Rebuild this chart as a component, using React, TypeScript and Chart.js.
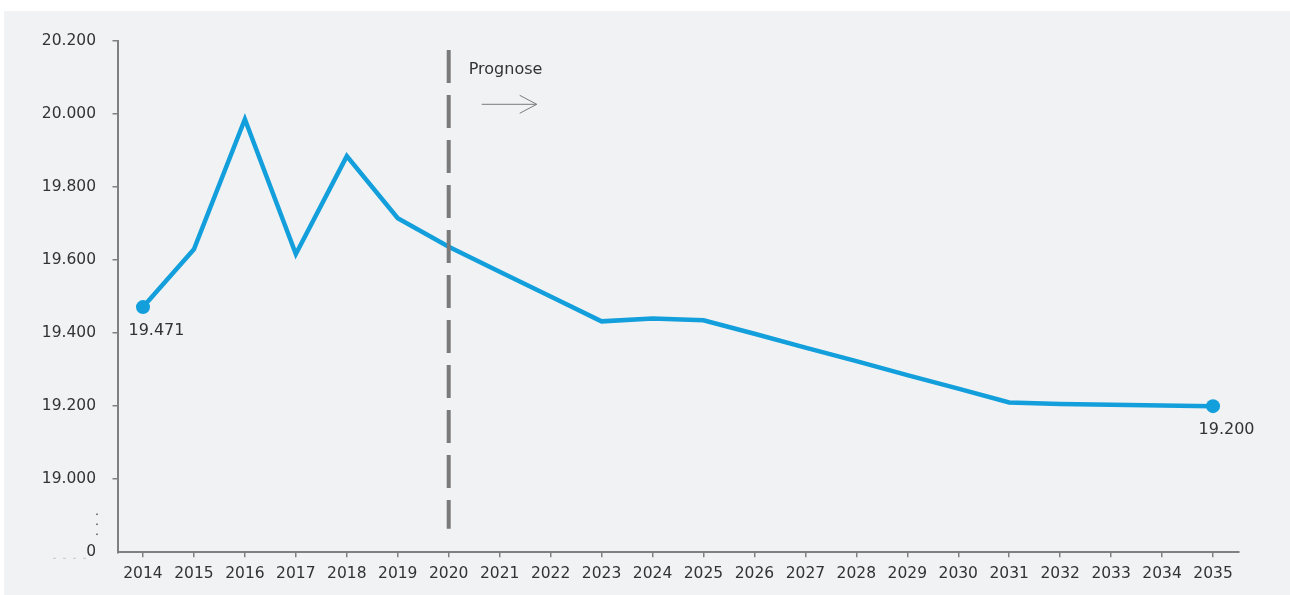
import { useEffect, useRef } from 'react';
import { Chart, registerables } from 'chart.js';

Chart.register(...registerables);

const years = ['2014', '2015', '2016', '2017', '2018', '2019', '2020', '2021', '2022', '2023', '2024', '2025', '2026', '2027', '2028', '2029', '2030', '2031', '2032', '2033', '2034', '2035'];
const population = [19471, 19629, 19985, 19616, 19884, 19714, 19636, 19568, 19500, 19432, 19440, 19435, 19398, 19360, 19323, 19285, 19248, 19210, 19206, 19204, 19202, 19200];
const yTickValues = [18800, 19000, 19200, 19400, 19600, 19800, 20000, 20200];
const yBreakValue = 18800; // shown as "0" (broken axis)
const prognoseYear = '2020';
const prognoseLabel = 'Prognose';

const FONT = '"DejaVu Sans", Verdana, sans-serif';
const TEXT = '#333333';
const AXIS = '#808080';
const LINE = '#139fdb';

const fmt = (v: number) => (v / 1000).toFixed(3);

const overlay = {
  id: 'overlay',
  afterDatasetsDraw(chart: any) {
    const { ctx, chartArea, scales } = chart;
    const x = scales.x;
    const y = scales.y;
    ctx.save();
    // forecast divider
    const px = x.getPixelForValue(years.indexOf(prognoseYear));
    ctx.strokeStyle = '#7a7a7a';
    ctx.lineWidth = 4;
    ctx.setLineDash([33, 12]);
    ctx.beginPath();
    ctx.moveTo(px, chartArea.top + 9.3);
    ctx.lineTo(px, chartArea.bottom - 23.6);
    ctx.stroke();
    ctx.setLineDash([]);
    // label
    ctx.fillStyle = TEXT;
    ctx.font = `16px ${FONT}`;
    ctx.textAlign = 'left';
    ctx.textBaseline = 'middle';
    ctx.fillText(prognoseLabel, px + 20, chartArea.top + 29.5);
    // arrow
    const ay = chartArea.top + 63.6;
    ctx.strokeStyle = '#7a7a7a';
    ctx.lineWidth = 1;
    ctx.beginPath();
    ctx.moveTo(px + 33, ay);
    ctx.lineTo(px + 88, ay);
    ctx.moveTo(px + 71, ay - 9);
    ctx.lineTo(px + 88, ay);
    ctx.lineTo(px + 71, ay + 9);
    ctx.stroke();
    // data labels at first and last points
    const meta = chart.getDatasetMeta(0);
    [0, population.length - 1].forEach((i) => {
      const pt = meta.data[i];
      ctx.fillStyle = TEXT;
      ctx.font = `16px ${FONT}`;
      ctx.textAlign = 'center';
      ctx.textBaseline = 'middle';
      ctx.fillText(fmt(population[i]), pt.x + 13.5, pt.y + 23.5);
    });
    // axis break marks
    const bx = chartArea.left - 20.5;
    ctx.fillStyle = '#555555';
    [38, 28, 18].forEach((d) => {
      ctx.fillRect(bx - 0.75, chartArea.bottom - d - 0.75, 1.5, 1.5);
    });
    ctx.strokeStyle = '#c8c8c8';
    ctx.lineWidth = 1;
    ctx.setLineDash([3, 7]);
    ctx.beginPath();
    ctx.moveTo(chartArea.left - 64.5, chartArea.bottom + 6);
    ctx.lineTo(chartArea.left - 24.5, chartArea.bottom + 6);
    ctx.stroke();
    ctx.restore();
  },
};

export default function App() {
  const ref = useRef<HTMLCanvasElement>(null);
  useEffect(() => {
    document.body.style.margin = '0';
    const chart = new Chart(ref.current!, {
      type: 'line',
      data: {
        labels: years,
        datasets: [
          {
            data: population,
            borderColor: LINE,
            backgroundColor: LINE,
            borderWidth: 4.5,
            tension: 0,
            pointRadius: (c: any) => (c.dataIndex === 0 || c.dataIndex === population.length - 1 ? 7 : 0),
            pointHoverRadius: 0,
            pointBorderWidth: 0,
            pointBackgroundColor: LINE,
          },
        ],
      },
      options: {
        animation: false,
        responsive: false,
        layout: { padding: { top: 29.7, right: 51.5, bottom: 0, left: 0 } },
        plugins: { legend: { display: false }, tooltip: { enabled: false } },
        scales: {
          x: {
            type: 'category',
            offset: true,
            grid: { drawOnChartArea: false, drawTicks: true, tickLength: 5, color: AXIS, lineWidth: 1.5, offset: false },
            border: { color: AXIS, width: 2 },
            ticks: { color: TEXT, font: { family: FONT, size: 15.5 }, padding: 7, maxRotation: 0, autoSkip: false },
            afterFit: (s: any) => { s.height = 42.7; },
          },
          y: {
            type: 'linear',
            min: yTickValues[0],
            max: yTickValues[yTickValues.length - 1],
            afterBuildTicks: (s: any) => { s.ticks = yTickValues.map((v) => ({ value: v })); },
            grid: {
              drawOnChartArea: false,
              drawTicks: true,
              tickLength: 5,
              lineWidth: 1.5,
              tickColor: (c: any) => (c.tick && c.tick.value === yBreakValue ? 'rgba(0,0,0,0)' : AXIS),
              color: AXIS,
            },
            border: { color: AXIS, width: 2 },
            ticks: {
              color: TEXT,
              font: { family: FONT, size: 15.5 },
              padding: 16.5,
              callback: (v: any) => (v === yBreakValue ? '0' : fmt(Number(v))),
            },
            afterFit: (s: any) => { s.width = 113.5; },
          },
        },
      },
      plugins: [overlay],
    } as any);
    return () => chart.destroy();
  }, []);
  return (
    <div style={{ position: 'absolute', left: 4, top: 11, width: 1286, height: 584, background: '#f1f2f4' }}>
      <canvas ref={ref} width={1286} height={584} style={{ display: 'block', width: 1286, height: 584 }} />
    </div>
  );
}
